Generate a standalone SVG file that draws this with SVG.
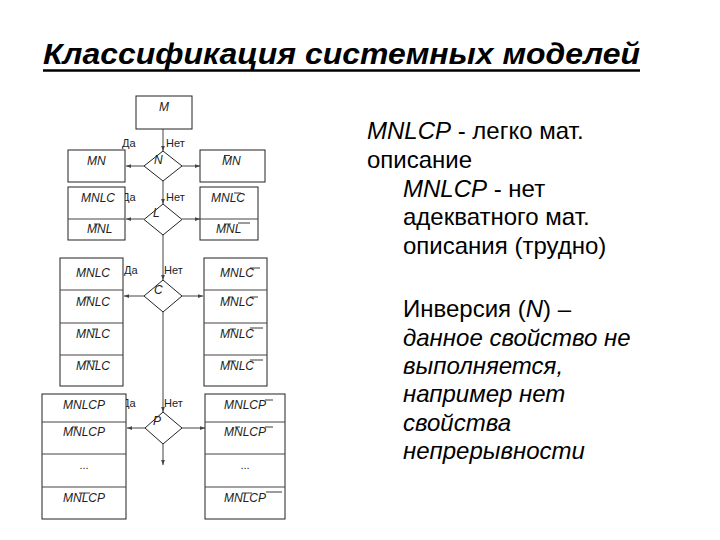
<svg xmlns="http://www.w3.org/2000/svg" width="720" height="540" viewBox="0 0 720 540">
<style>
.bx{fill:#fff;stroke:#222;stroke-width:1}
.dv{stroke:#444;stroke-width:1}
.dm{fill:#fff;stroke:#222;stroke-width:1}
.t{font-family:"Liberation Sans",Arial,sans-serif;font-size:12px;font-style:italic;fill:#222}
.lb{font-family:"Liberation Sans",Arial,sans-serif;font-size:11px;fill:#222}
.ol{stroke:#222;stroke-width:0.9}
.cn{stroke:#444;stroke-width:1;fill:none;marker-end:url(#ah)}
.r{font-family:"Liberation Sans",Arial,sans-serif;font-size:24px;fill:#000}
.i{font-style:italic}
</style>
<defs>
<marker id="ah" viewBox="0 0 8 6" refX="8" refY="3" markerWidth="5" markerHeight="4" orient="auto" markerUnits="userSpaceOnUse">
<path d="M0,0 L8,3 L0,6 z" fill="#444"/>
</marker>
</defs>
<rect width="720" height="540" fill="#fff"/>

<g id="title">
<text x="43" y="64" font-family="'Liberation Sans',Arial,sans-serif" font-size="29" font-weight="bold" font-style="italic" textLength="597" lengthAdjust="spacingAndGlyphs">Классификация системных моделей</text>
<line x1="43" y1="70.5" x2="640" y2="70.5" stroke="#000" stroke-width="2.5"/>
</g>

<g id="connectors">
<line class="cn" x1="163" y1="129" x2="163" y2="151"/>
<line class="cn" x1="144" y1="166" x2="126" y2="166"/>
<line class="cn" x1="182" y1="166" x2="200" y2="166"/>
<line class="cn" x1="163" y1="181" x2="163" y2="204"/>
<line class="cn" x1="144" y1="219" x2="126" y2="219"/>
<line class="cn" x1="182" y1="219" x2="200" y2="219"/>
<line class="cn" x1="163" y1="235" x2="163" y2="280"/>
<line class="cn" x1="144" y1="296" x2="124" y2="296"/>
<line class="cn" x1="182" y1="296" x2="203" y2="296"/>
<line class="cn" x1="163" y1="312" x2="163" y2="412"/>
<line class="cn" x1="145" y1="428" x2="127" y2="428"/>
<line class="cn" x1="182" y1="428" x2="205" y2="428"/>
<line class="cn" x1="163" y1="444" x2="163" y2="465"/>
</g>

<g id="node-M">
<rect class="bx" x="136" y="96" width="56" height="33"/>
<text class="t" x="159" y="111">M</text>
</g>

<g id="node-N">
<polygon class="dm" points="163,151 182,166 163,181 144,166"/>
<text class="t" x="154" y="164">N</text>
<text class="lb" x="122" y="147">Да</text>
<text class="lb" x="166" y="147">Нет</text>
</g>
<g id="node-MN">
<rect class="bx" x="68" y="150" width="57" height="32"/>
<text class="t" x="87" y="165">MN</text>
</g>
<g id="node-MN-inv">
<rect class="bx" x="200" y="150" width="65" height="32"/>
<text class="t" x="222" y="165">MN</text>
<line class="ol" x1="224" y1="155.5" x2="230" y2="155.5"/>
</g>

<g id="node-L">
<polygon class="dm" points="163,204 182,219.5 163,235 144,219.5"/>
<text class="t" x="153" y="217">L</text>
<text class="lb" x="122" y="201">Да</text>
<text class="lb" x="166" y="201">Нет</text>
</g>
<g id="node-L-left">
<rect class="bx" x="68" y="187" width="57" height="53"/>
<line class="dv" x1="68" y1="219" x2="125" y2="219"/>
<text class="t" x="81" y="202">MNLC</text>
<text class="t" x="87" y="233">MNL</text>
<line class="ol" x1="94" y1="224" x2="100" y2="224"/>
</g>
<g id="node-L-right">
<rect class="bx" x="200" y="187" width="58" height="53"/>
<line class="dv" x1="200" y1="219" x2="258" y2="219"/>
<text class="t" x="211" y="202">MNLC</text>
<line class="ol" x1="234" y1="193" x2="241" y2="193"/>
<text class="t" x="216" y="233">MNL</text>
<line class="ol" x1="224" y1="224" x2="231" y2="224"/>
<line class="ol" x1="238" y1="223" x2="250" y2="223"/>
</g>

<g id="node-C">
<polygon class="dm" points="163,280 182,296 163,312 144,296"/>
<text class="t" x="154" y="294">C</text>
<text class="lb" x="124" y="274">Да</text>
<text class="lb" x="164" y="274">Нет</text>
</g>
<g id="node-C-left">
<rect class="bx" x="60" y="258" width="63" height="128"/>
<line class="dv" x1="60" y1="290" x2="123" y2="290"/>
<line class="dv" x1="60" y1="323" x2="123" y2="323"/>
<line class="dv" x1="60" y1="355" x2="123" y2="355"/>
<text class="t" x="76" y="277">MNLC</text>
<text class="t" x="76" y="306">MNLC</text>
<line class="ol" x1="85" y1="297" x2="91" y2="297"/>
<text class="t" x="76" y="338">MNLC</text>
<line class="ol" x1="92" y1="329" x2="98" y2="329"/>
<text class="t" x="76" y="370">MNLC</text>
<line class="ol" x1="85" y1="361" x2="91" y2="361"/>
<line class="ol" x1="92" y1="361" x2="98" y2="361"/>
</g>
<g id="node-C-right">
<rect class="bx" x="204" y="258" width="63" height="128"/>
<line class="dv" x1="204" y1="290" x2="267" y2="290"/>
<line class="dv" x1="204" y1="323" x2="267" y2="323"/>
<line class="dv" x1="204" y1="355" x2="267" y2="355"/>
<text class="t" x="220" y="277">MNLC</text>
<line class="ol" x1="250" y1="268" x2="260" y2="268"/>
<text class="t" x="220" y="306">MNLC</text>
<line class="ol" x1="228" y1="297" x2="233" y2="297"/>
<line class="ol" x1="250" y1="297" x2="258" y2="297"/>
<text class="t" x="220" y="338">MNLC</text>
<line class="ol" x1="230" y1="329" x2="236" y2="329"/>
<line class="ol" x1="250" y1="328" x2="263" y2="328"/>
<text class="t" x="220" y="370">MNLC</text>
<line class="ol" x1="228" y1="361" x2="236" y2="361"/>
<line class="ol" x1="250" y1="360" x2="263" y2="360"/>
</g>

<g id="node-P">
<polygon class="dm" points="163,412 182,428 163,444 145,428"/>
<text class="t" x="153" y="425">P</text>
<text class="lb" x="122" y="407">Да</text>
<text class="lb" x="164" y="407">Нет</text>
</g>
<g id="node-P-left">
<rect class="bx" x="42" y="394" width="84" height="125"/>
<line class="dv" x1="42" y1="422" x2="126" y2="422"/>
<line class="dv" x1="42" y1="454" x2="126" y2="454"/>
<line class="dv" x1="42" y1="487" x2="126" y2="487"/>
<text class="t" x="63" y="409">MNLCP</text>
<text class="t" x="63" y="436">MNLCP</text>
<line class="ol" x1="72" y1="427" x2="78" y2="427"/>
<text class="lb" x="84" y="469" text-anchor="middle" fill="#555">...</text>
<text class="t" x="63" y="502">MNLCP</text>
<line class="ol" x1="79" y1="493" x2="90" y2="493"/>
</g>
<g id="node-P-right">
<rect class="bx" x="205" y="394" width="80" height="125"/>
<line class="dv" x1="205" y1="422" x2="285" y2="422"/>
<line class="dv" x1="205" y1="454" x2="285" y2="454"/>
<line class="dv" x1="205" y1="487" x2="285" y2="487"/>
<text class="t" x="224" y="409">MNLCP</text>
<line class="ol" x1="265" y1="400" x2="273" y2="400"/>
<text class="t" x="224" y="436">MNLCP</text>
<line class="ol" x1="235" y1="427" x2="240" y2="427"/>
<line class="ol" x1="265" y1="427" x2="273" y2="427"/>
<text class="lb" x="245" y="469" text-anchor="middle" fill="#555">...</text>
<text class="t" x="224" y="502">MNLCP</text>
<line class="ol" x1="242" y1="493" x2="252" y2="493"/>
<line class="ol" x1="266" y1="492" x2="282" y2="492"/>
</g>

<g id="description">
<text class="r" x="367" y="139"><tspan class="i">MNLCP</tspan> - легко мат.</text>
<text class="r" x="367" y="168">описание</text>
<text class="r" x="403" y="197"><tspan class="i">MNLCP</tspan> - нет</text>
<text class="r" x="403" y="225">адекватного мат.</text>
<text class="r" x="403" y="254">описания (трудно)</text>
<text class="r" x="403" y="317">Инверсия (<tspan class="i">N</tspan>) –</text>
<text class="r i" x="403" y="346">данное свойство не</text>
<text class="r i" x="403" y="374">выполняется,</text>
<text class="r i" x="403" y="402">например нет</text>
<text class="r i" x="403" y="431">свойства</text>
<text class="r i" x="403" y="459">непрерывности</text>
</g>
</svg>
